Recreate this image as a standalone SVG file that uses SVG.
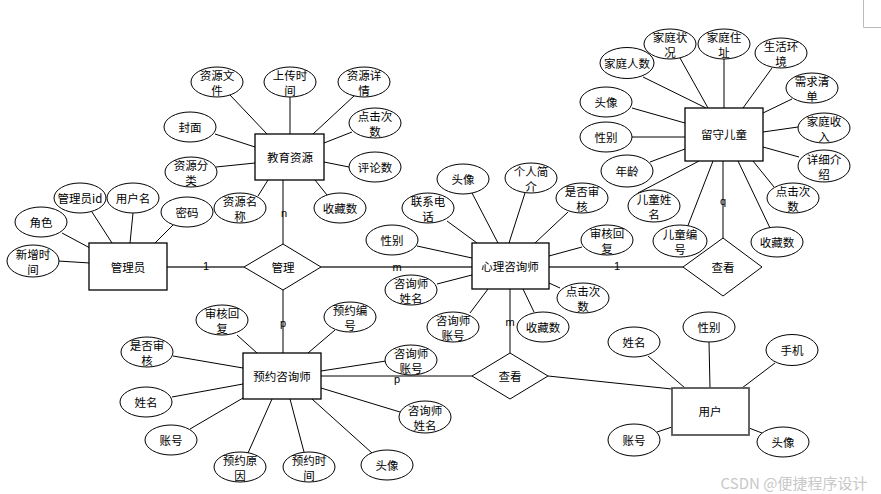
<svg xmlns="http://www.w3.org/2000/svg" width="881" height="494" viewBox="0 0 881 494">
<style>
.e{fill:#fff;stroke:#000;stroke-width:1}
.b{fill:#fff;stroke:#000;stroke-width:1.3}
.d{fill:#fff;stroke:#000;stroke-width:1}
.t{font-family:"Noto Sans CJK SC","Noto Sans",sans-serif;font-size:11.5px;fill:#000;text-anchor:middle;dominant-baseline:central}
.c{stroke:#000;stroke-width:1;fill:none}
.k{stroke:#666;stroke-width:2.2;fill:none}
.lb{font-family:"Liberation Sans",Arial,sans-serif;font-size:11px;fill:#000;text-anchor:middle;dominant-baseline:central}
</style>
<rect x="0" y="0" width="881" height="494" fill="#fff"/>
<path d="M863.5 0 V27.5 H881" stroke="#bbb" stroke-width="1" fill="none"/>
<g id="connectors">
<path class="c" d="M92 212L112 243M133 213L130 243M173 225L155 243M62 233L90 248M58 261L90 263"/>
<path class="k" d="M167 267H244M321 267H472M549 267H683"/>
<path class="c" d="M230 95L267 134M290 97V134M355 95L313 134M352 132L324 143M349 167L324 162M327 195L315 180M215 134L255 147M216 167L255 163M258 196L268 180M283 180V244"/>
<path class="c" d="M283 290V353"/>
<path class="c" d="M472 193L498 243M525 193L509 243M568 212L535 243M447 221L477 243M417 246L472 258M582 247L549 256M437 284L472 275M470 313L488 289M534 312L523 289M560 288L549 283M510 289V353"/>
<path class="c" d="M680 58L708 108M643 77L706 108M724 59V108M772 68L743 108M792 99L763 113M632 108L685 123M798 127L763 132M632 137H685M799 157L763 147M650 162L685 149M774 187L753 161M638 193L699 161M687 228L713 161M770 228L738 161M723 161V238"/>
<path class="c" d="M237 335L257 353M335 330L308 353M173 356L243 368M386 361L321 371M172 397L243 384M400 412L321 388M190 429L243 398M248 453L272 399M304 452L290 399M372 453L312 399"/>
<path class="c" d="M321 376H472M548 376L672 389"/>
<path class="c" d="M648 356L685 388M709 342L710 388M775 363L742 388M657 432L672 427M762 433L749 428"/>
<text class="lb" x="206" y="266">1</text>
<text class="lb" x="284" y="213">n</text>
<text class="lb" x="397" y="267">m</text>
<text class="lb" x="617" y="266">1</text>
<text class="lb" x="723" y="201">q</text>
<text class="lb" x="510" y="322">m</text>
<text class="lb" x="283" y="323">p</text>
<text class="lb" x="397" y="379">p</text>
</g>
<g id="guanliyuan"><rect class="b" x="89" y="243" width="78" height="47"/><text class="t" x="128" y="267">管理员</text></g>
<g id="jiaoyuziyuan"><rect class="b" x="255" y="134" width="69" height="46"/><text class="t" x="290" y="157">教育资源</text></g>
<g id="xinlizixunshi"><rect class="b" x="472" y="243" width="77" height="46"/><text class="t" x="510" y="266">心理咨询师</text></g>
<g id="liushouertong"><rect class="b" x="685" y="108" width="78" height="53"/><text class="t" x="724" y="134">留守儿童</text></g>
<g id="yuyuezixunshi"><rect class="b" x="243" y="353" width="78" height="46"/><text class="t" x="282" y="376">预约咨询师</text></g>
<g id="yonghu"><rect class="b" x="672" y="388" width="77" height="47" style="stroke:#555;stroke-width:1.8"/><text class="t" x="710" y="411">用户</text></g>
<g id="guanli"><polygon class="d" points="283,244 321,267 283,290 244,267"/><text class="t" x="283" y="267">管理</text></g>
<g id="chakan1"><polygon class="d" points="723,238 762,267 723,296 683,267"/><text class="t" x="723" y="267">查看</text></g>
<g id="chakan2"><polygon class="d" points="510,353 548,376 510,399 472,376"/><text class="t" x="510" y="376">查看</text></g>
<g id="a_gly_id"><ellipse class="e" cx="80" cy="198" rx="26" ry="15"/><text class="t" x="80" y="198">管理员id</text></g>
<g id="a_gly_yhm"><ellipse class="e" cx="133" cy="198" rx="26" ry="15"/><text class="t" x="133" y="198">用户名</text></g>
<g id="a_gly_js"><ellipse class="e" cx="41" cy="222" rx="26" ry="15"/><text class="t" x="41" y="222">角色</text></g>
<g id="a_gly_mm"><ellipse class="e" cx="187" cy="212" rx="26" ry="15"/><text class="t" x="187" y="212">密码</text></g>
<g id="a_gly_xzsj"><ellipse class="e" cx="33" cy="261" rx="26" ry="16"/><text class="t" x="33" y="254">新增时</text><text class="t" x="33" y="269">间</text></g>
<g id="a_jy_zywj"><ellipse class="e" cx="217" cy="82" rx="26" ry="15"/><text class="t" x="217" y="75">资源文</text><text class="t" x="217" y="90">件</text></g>
<g id="a_jy_scsj"><ellipse class="e" cx="290" cy="82" rx="26" ry="15"/><text class="t" x="290" y="75">上传时</text><text class="t" x="290" y="90">间</text></g>
<g id="a_jy_zyxq"><ellipse class="e" cx="364" cy="82" rx="26" ry="15"/><text class="t" x="364" y="75">资源详</text><text class="t" x="364" y="90">情</text></g>
<g id="a_jy_djcs"><ellipse class="e" cx="375" cy="123" rx="26" ry="15"/><text class="t" x="375" y="116">点击次</text><text class="t" x="375" y="131">数</text></g>
<g id="a_jy_pls"><ellipse class="e" cx="375" cy="167" rx="26" ry="15"/><text class="t" x="375" y="167">评论数</text></g>
<g id="a_jy_scs"><ellipse class="e" cx="340" cy="208" rx="26" ry="15"/><text class="t" x="340" y="208">收藏数</text></g>
<g id="a_jy_fm"><ellipse class="e" cx="190" cy="127" rx="26" ry="15"/><text class="t" x="190" y="127">封面</text></g>
<g id="a_jy_zyfl"><ellipse class="e" cx="191" cy="172" rx="26" ry="15"/><text class="t" x="191" y="165">资源分</text><text class="t" x="191" y="180">类</text></g>
<g id="a_jy_zymc"><ellipse class="e" cx="240" cy="208" rx="26" ry="15"/><text class="t" x="240" y="201">资源名</text><text class="t" x="240" y="216">称</text></g>
<g id="a_xl_tx"><ellipse class="e" cx="463" cy="179" rx="26" ry="15"/><text class="t" x="463" y="179">头像</text></g>
<g id="a_xl_grjj"><ellipse class="e" cx="531" cy="178" rx="26" ry="15"/><text class="t" x="531" y="171">个人简</text><text class="t" x="531" y="186">介</text></g>
<g id="a_xl_sfsh"><ellipse class="e" cx="582" cy="198" rx="26" ry="15"/><text class="t" x="582" y="191">是否审</text><text class="t" x="582" y="206">核</text></g>
<g id="a_xl_lxdh"><ellipse class="e" cx="428" cy="208" rx="26" ry="15"/><text class="t" x="428" y="201">联系电</text><text class="t" x="428" y="216">话</text></g>
<g id="a_xl_xb"><ellipse class="e" cx="392" cy="240" rx="26" ry="15"/><text class="t" x="392" y="240">性别</text></g>
<g id="a_xl_shhf"><ellipse class="e" cx="607" cy="240" rx="26" ry="15"/><text class="t" x="607" y="233">审核回</text><text class="t" x="607" y="248">复</text></g>
<g id="a_xl_zxsxm"><ellipse class="e" cx="411" cy="290" rx="26" ry="15"/><text class="t" x="411" y="283">咨询师</text><text class="t" x="411" y="298">姓名</text></g>
<g id="a_xl_zxszh"><ellipse class="e" cx="453" cy="327" rx="26" ry="15"/><text class="t" x="453" y="320">咨询师</text><text class="t" x="453" y="335">账号</text></g>
<g id="a_xl_scs"><ellipse class="e" cx="543" cy="327" rx="26" ry="15"/><text class="t" x="543" y="327">收藏数</text></g>
<g id="a_xl_djcs"><ellipse class="e" cx="583" cy="298" rx="26" ry="15"/><text class="t" x="583" y="291">点击次</text><text class="t" x="583" y="306">数</text></g>
<g id="a_et_jtzk"><ellipse class="e" cx="670" cy="44" rx="26" ry="15"/><text class="t" x="670" y="37">家庭状</text><text class="t" x="670" y="52">况</text></g>
<g id="a_et_jtzz"><ellipse class="e" cx="724" cy="44" rx="26" ry="15"/><text class="t" x="724" y="37">家庭住</text><text class="t" x="724" y="52">址</text></g>
<g id="a_et_shhj"><ellipse class="e" cx="781" cy="53" rx="26" ry="15"/><text class="t" x="781" y="46">生活环</text><text class="t" x="781" y="61">境</text></g>
<g id="a_et_jtrs"><ellipse class="e" cx="627" cy="63" rx="27" ry="15.5"/><text class="t" x="627" y="63">家庭人数</text></g>
<g id="a_et_xqqd"><ellipse class="e" cx="812" cy="88" rx="26" ry="15"/><text class="t" x="812" y="81">需求清</text><text class="t" x="812" y="96">单</text></g>
<g id="a_et_tx"><ellipse class="e" cx="606" cy="102" rx="26" ry="15"/><text class="t" x="606" y="102">头像</text></g>
<g id="a_et_jtsr"><ellipse class="e" cx="824" cy="128" rx="26" ry="15"/><text class="t" x="824" y="121">家庭收</text><text class="t" x="824" y="136">入</text></g>
<g id="a_et_xb"><ellipse class="e" cx="606" cy="137" rx="26" ry="15"/><text class="t" x="606" y="137">性别</text></g>
<g id="a_et_xxjs"><ellipse class="e" cx="824" cy="166" rx="26" ry="16"/><text class="t" x="824" y="159">详细介</text><text class="t" x="824" y="174">绍</text></g>
<g id="a_et_nl"><ellipse class="e" cx="627" cy="171" rx="26" ry="16"/><text class="t" x="627" y="171">年龄</text></g>
<g id="a_et_djcs"><ellipse class="e" cx="793" cy="198" rx="26" ry="15"/><text class="t" x="793" y="191">点击次</text><text class="t" x="793" y="206">数</text></g>
<g id="a_et_etxm"><ellipse class="e" cx="654" cy="206" rx="26" ry="16"/><text class="t" x="654" y="199">儿童姓</text><text class="t" x="654" y="214">名</text></g>
<g id="a_et_etbh"><ellipse class="e" cx="680" cy="241" rx="27" ry="16"/><text class="t" x="680" y="234">儿童编</text><text class="t" x="680" y="249">号</text></g>
<g id="a_et_scs"><ellipse class="e" cx="777" cy="242" rx="26" ry="15"/><text class="t" x="777" y="242">收藏数</text></g>
<g id="a_yy_shhf"><ellipse class="e" cx="222" cy="320" rx="26" ry="15"/><text class="t" x="222" y="313">审核回</text><text class="t" x="222" y="328">复</text></g>
<g id="a_yy_yybh"><ellipse class="e" cx="350" cy="317" rx="26" ry="15"/><text class="t" x="350" y="310">预约编</text><text class="t" x="350" y="325">号</text></g>
<g id="a_yy_sfsh"><ellipse class="e" cx="147" cy="352" rx="26" ry="15"/><text class="t" x="147" y="345">是否审</text><text class="t" x="147" y="360">核</text></g>
<g id="a_yy_zxszh"><ellipse class="e" cx="411" cy="360" rx="26" ry="15"/><text class="t" x="411" y="353">咨询师</text><text class="t" x="411" y="368">账号</text></g>
<g id="a_yy_xm"><ellipse class="e" cx="146" cy="402" rx="26" ry="15"/><text class="t" x="146" y="402">姓名</text></g>
<g id="a_yy_zxsxm"><ellipse class="e" cx="425" cy="417" rx="26" ry="16"/><text class="t" x="425" y="410">咨询师</text><text class="t" x="425" y="425">姓名</text></g>
<g id="a_yy_zh"><ellipse class="e" cx="171" cy="440" rx="26" ry="15"/><text class="t" x="171" y="440">账号</text></g>
<g id="a_yy_yyyy"><ellipse class="e" cx="240" cy="467" rx="26" ry="15"/><text class="t" x="240" y="460">预约原</text><text class="t" x="240" y="475">因</text></g>
<g id="a_yy_yysj"><ellipse class="e" cx="309" cy="467" rx="26" ry="15"/><text class="t" x="309" y="460">预约时</text><text class="t" x="309" y="475">间</text></g>
<g id="a_yy_tx"><ellipse class="e" cx="387" cy="465" rx="26" ry="15"/><text class="t" x="387" y="465">头像</text></g>
<g id="a_yh_xm"><ellipse class="e" cx="634" cy="342" rx="26" ry="15"/><text class="t" x="634" y="342">姓名</text></g>
<g id="a_yh_xb"><ellipse class="e" cx="709" cy="327" rx="26" ry="15"/><text class="t" x="709" y="327">性别</text></g>
<g id="a_yh_sj"><ellipse class="e" cx="792" cy="350" rx="26" ry="15.5"/><text class="t" x="792" y="350">手机</text></g>
<g id="a_yh_zh"><ellipse class="e" cx="634" cy="440" rx="26" ry="16"/><text class="t" x="634" y="440">账号</text></g>
<g id="a_yh_tx"><ellipse class="e" cx="783" cy="442" rx="26" ry="15"/><text class="t" x="783" y="442">头像</text></g>
<text x="794" y="482" style="font-family:'Noto Sans CJK SC','Noto Sans',sans-serif;font-size:15px;fill:#c8c8c8;text-anchor:middle;dominant-baseline:central">CSDN @便捷程序设计</text>
</svg>
